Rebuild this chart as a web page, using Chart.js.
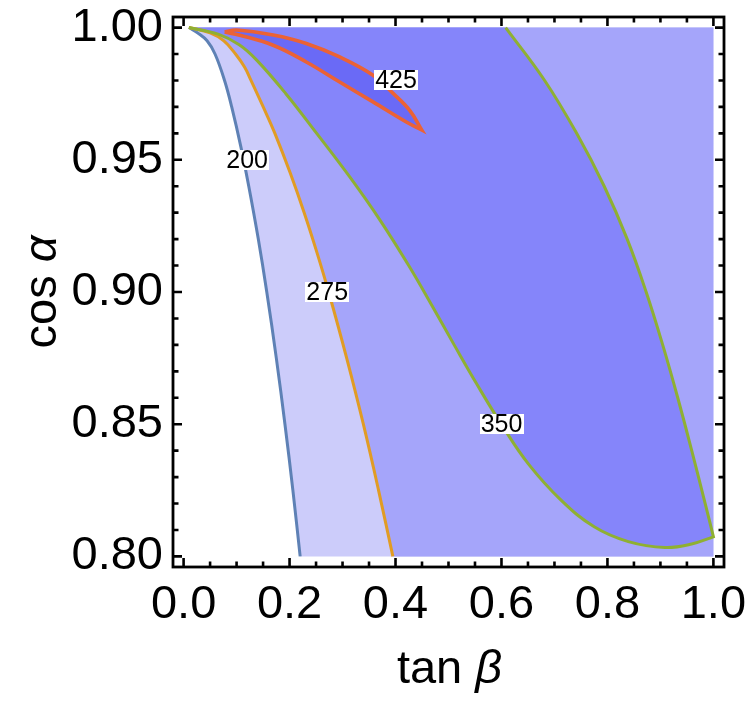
<!DOCTYPE html>
<html><head><meta charset="utf-8">
<script src="https://cdn.jsdelivr.net/npm/chart.js@4"></script>
<style>html,body{margin:0;padding:0;background:#fff}</style>
</head><body>
<canvas id="c" width="750" height="703"></canvas>
<script>
// ---- tick values ----
const xTicks = [0.0, 0.2, 0.4, 0.6, 0.8, 1.0];
const yTicks = [0.80, 0.85, 0.90, 0.95, 1.00];
const xMinor = [0.05,0.1,0.15,0.25,0.3,0.35,0.45,0.5,0.55,0.65,0.7,0.75,0.85,0.9,0.95];
const yMinor = [0.81,0.82,0.83,0.84,0.86,0.87,0.88,0.89,0.91,0.92,0.93,0.94,0.96,0.97,0.98,0.99];

// ---- axis titles ----
const xTitle = ['tan ', 'β'];
const yTitle = ['cos ', 'α'];

// ---- contour levels and their lines (tan beta, cos alpha) ----
const levels = ['200', '275', '350', '425'];
const c200 = [[0.01,1.0],[0.0263,0.998],[0.0443,0.995],[0.0593,0.99],[0.0773,0.98],[0.0908,0.97],
  [0.108,0.955],[0.123,0.94],[0.141,0.92],[0.157,0.90],[0.175,0.875],[0.1913,0.85],[0.2063,0.825],[0.220,0.800]];
const c275 = [[0.01,1.0],[0.05,0.998],[0.076,0.995],[0.098,0.99],[0.1153,0.985],[0.1273,0.98],[0.1503,0.97],
  [0.1723,0.96],[0.2013,0.945],[0.2276,0.93],[0.2516,0.915],[0.2738,0.90],[0.3078,0.875],[0.3393,0.85],
  [0.368,0.825],[0.395,0.800]];
const c350 = [[0.01,1.0],[0.065,0.9975],[0.105,0.9935],[0.138,0.9877],[0.193,0.975],[0.2512,0.960],[0.3133,0.9436],
  [0.3707,0.9272],[0.4249,0.910],[0.4684,0.895],[0.5107,0.880],[0.5539,0.865],[0.5997,0.850],[0.6507,0.835],
  [0.7124,0.8213],[0.775,0.8112],[0.8394,0.8056],[0.9086,0.8034],[0.959,0.8047],[1.0,0.8074],[1.0,0.8074],
  [0.9845,0.820],[0.9591,0.840],[0.9327,0.860],[0.9043,0.880],[0.8731,0.900],[0.8373,0.920],[0.7939,0.940],
  [0.7419,0.960],[0.6815,0.980],[0.6079,1.0]];
const c425 = [[0.0775,0.9983],[0.10,0.9991],[0.169,0.9972],[0.2316,0.994],[0.2946,0.9889],[0.3575,0.982],
  [0.395,0.9752],[0.4268,0.9687],[0.4494,0.9613],[0.4494,0.9613],[0.4204,0.9643],[0.3575,0.9719],[0.2946,0.9794],
  [0.2316,0.987],[0.169,0.9933],[0.106,0.9971],[0.0775,0.9983]];
// contour label positions
const labelX = [0.120, 0.271, 0.600, 0.401];
const labelY = [0.950, 0.900, 0.850, 0.980];
// data domain corners
const xMax = 1.0, yMin = 0.8, yMax = 1.0;

const lineColors = ['rgb(94,129,181)', 'rgb(225,156,36)', 'rgb(143,176,50)', 'rgb(235,98,53)'];
const fillColors = ['rgb(204,204,250)', 'rgb(165,165,250)', 'rgb(133,133,250)', 'rgb(106,106,246)'];
const FONT = '"Liberation Sans", Arial, Helvetica, sans-serif';

const pts = a => a.map(p => ({x: p[0], y: p[1]}));
const last = a => a[a.length - 1];
const fill200 = [...c200, last(c200), [xMax, yMin], [xMax, yMin], [xMax, yMax]];
const fill275 = [...c275, last(c275), [xMax, yMin], [xMax, yMin], [xMax, yMax]];
const fillSets = [fill200, fill275, c350, c425];
const lineSets = [c200, c275, c350, c425];

const datasets = [];
fillSets.forEach((s, i) => datasets.push({
  label: 'fill ' + levels[i], data: pts(s), showLine: true, fill: 'shape',
  backgroundColor: fillColors[i], borderColor: 'rgba(0,0,0,0)', borderWidth: 1,
  pointRadius: 0, tension: 0.4, order: 20 - i
}));
lineSets.forEach((s, i) => datasets.push({
  label: levels[i], data: pts(s), showLine: true, fill: false,
  borderColor: lineColors[i], borderWidth: i === 3 ? 3.6 : 3, backgroundColor: lineColors[i],
  pointRadius: 0, tension: 0.4, order: 10 - i
}));

function mixedText(ctx, parts, size) {
  const fonts = [size + 'px ' + FONT, 'italic ' + size + 'px ' + FONT];
  let w = 0;
  parts.forEach((p, i) => { ctx.font = fonts[i]; w += ctx.measureText(p).width; });
  let x = -w / 2;
  parts.forEach((p, i) => { ctx.font = fonts[i]; ctx.fillText(p, x, 0); x += ctx.measureText(p).width; });
}

const decor = {
  id: 'decor',
  afterDatasetsDraw(chart) {
    const ctx = chart.ctx, xs = chart.scales.x, ys = chart.scales.y;
    ctx.save();
    ctx.font = '25px ' + FONT;
    ctx.textAlign = 'center';
    ctx.textBaseline = 'middle';
    levels.forEach((t, i) => {
      const px = xs.getPixelForValue(labelX[i]), py = ys.getPixelForValue(labelY[i]);
      const w = ctx.measureText(t).width + 2;
      ctx.fillStyle = '#fff';
      ctx.fillRect(Math.round(px - w / 2), Math.round(py - 10), Math.round(w), 20);
      ctx.fillStyle = '#000';
      ctx.fillText(t, px, py + 1);
    });
    ctx.restore();
  },
  afterDraw(chart) {
    const ctx = chart.ctx, a = chart.chartArea, xs = chart.scales.x, ys = chart.scales.y;
    ctx.save();
    ctx.strokeStyle = '#000';
    ctx.lineWidth = 2.8;
    ctx.strokeRect(a.left, a.top, a.right - a.left, a.bottom - a.top);
    ctx.lineWidth = 2.6;
    ctx.beginPath();
    const tx = (v, len) => { const p = xs.getPixelForValue(v);
      ctx.moveTo(p, a.bottom); ctx.lineTo(p, a.bottom - len);
      ctx.moveTo(p, a.top); ctx.lineTo(p, a.top + len); };
    const ty = (v, len) => { const p = ys.getPixelForValue(v);
      ctx.moveTo(a.left, p); ctx.lineTo(a.left + len, p);
      ctx.moveTo(a.right, p); ctx.lineTo(a.right - len, p); };
    xTicks.forEach(v => tx(v, 9)); xMinor.forEach(v => tx(v, 5.5));
    yTicks.forEach(v => ty(v, 9)); yMinor.forEach(v => ty(v, 5.5));
    ctx.stroke();
    // axis titles
    ctx.fillStyle = '#000';
    ctx.textAlign = 'left';
    ctx.textBaseline = 'alphabetic';
    ctx.save();
    ctx.translate((a.left + a.right) / 2 + 1, 683);
    mixedText(ctx, xTitle, 47);
    ctx.restore();
    ctx.save();
    ctx.translate(56, (a.top + a.bottom) / 2);
    ctx.rotate(-Math.PI / 2);
    mixedText(ctx, yTitle, 47);
    ctx.restore();
    ctx.restore();
  }
};

new Chart(document.getElementById('c'), {
  type: 'scatter',
  data: { datasets },
  plugins: [decor],
  options: {
    responsive: false, animation: false, devicePixelRatio: 1,
    layout: { padding: { top: 17, right: 26, left: 0, bottom: 0 } },
    plugins: { legend: { display: false }, tooltip: { enabled: false } },
    scales: {
      x: {
        type: 'linear', min: -0.02, max: 1.02,
        afterBuildTicks: s => { s.ticks = xTicks.map(v => ({ value: v })); },
        afterFit: s => { s.height = 136; s.paddingLeft = 0; s.paddingRight = 0; s.paddingTop = 0; s.paddingBottom = 0; },
        grid: { display: false, drawTicks: false }, border: { display: false },
        ticks: { padding: 10, color: '#000', maxRotation: 0, autoSkip: false,
          font: { family: FONT, size: 47 }, callback: v => Number(v).toFixed(1) },
        title: { display: false }
      },
      y: {
        type: 'linear', min: 0.796, max: 1.004,
        afterBuildTicks: s => { s.ticks = yTicks.map(v => ({ value: v })); },
        afterFit: s => { s.width = 173; s.paddingLeft = 0; s.paddingRight = 0; s.paddingTop = 0; s.paddingBottom = 0; },
        grid: { display: false, drawTicks: false }, border: { display: false },
        ticks: { padding: 10, color: '#000', autoSkip: false,
          font: { family: FONT, size: 47 }, callback: v => Number(v).toFixed(2) },
        title: { display: false }
      }
    }
  }
});
</script>
</body></html>
